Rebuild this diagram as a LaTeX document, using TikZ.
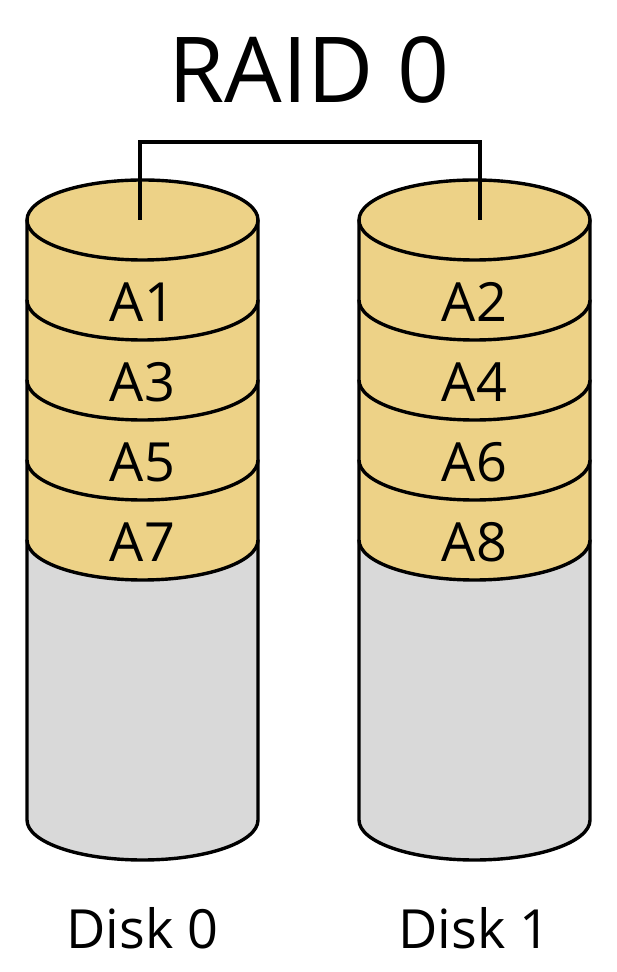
\documentclass[tikz,border=0pt]{standalone}
\usepackage{fontspec}
\setmainfont{Open Sans}
\definecolor{diskyellow}{HTML}{EDD287}
\definecolor{diskgray}{HTML}{D9D9D9}
\tikzset{
  outline/.style={draw=black, line width=3.4pt, line join=round},
  textlbl/.style={inner sep=0pt, font=\fontsize{54}{60}\selectfont},
  title/.style={inner sep=0pt, font=\fontsize{91}{100}\selectfont},
  bracket/.style={draw=black, line width=3.4pt}
}
% \mydisk{cx}{prefix}{l1}{l2}{l3}{l4}{name}
\newcommand{\mydisk}[7]{%
  \def\cx{#1}%
  % gray body
  \path[outline, fill=diskgray] (\cx-115.5, 972-540) -- (\cx-115.5, 972-820)
     arc[start angle=180, end angle=360, x radius=115.5, y radius=40]
     -- (\cx+115.5, 972-540) -- cycle;
  % yellow layers, bottom to top
  \foreach \ys/\lab in {460/#6, 380/#5, 300/#4, 220/#3} {
    \path[outline, fill=diskyellow] (\cx-115.5, 972-\ys) -- (\cx-115.5, 972-\ys-80)
       arc[start angle=180, end angle=360, x radius=115.5, y radius=40]
       -- (\cx+115.5, 972-\ys) -- cycle;
    \node[textlbl] (#2-\lab) at (\cx, 972-\ys-82) {\lab};
  }
  % top ellipse
  \path[outline, fill=diskyellow] (\cx, 972-220) ellipse[x radius=115.5, y radius=40];
  \node[textlbl] (#2-name) at (\cx, 972-928) {#7};
}
\begin{document}
\begin{tikzpicture}[x=1pt, y=1pt]
  \useasboundingbox (0,0) rectangle (616,972);
  \mydisk{142.5}{d0}{A1}{A3}{A5}{A7}{Disk 0}
  \mydisk{474.5}{d1}{A2}{A4}{A6}{A8}{Disk 1}
  \node[title] (raid) at (309, 972-70) {RAID 0};
  \coordinate (t0) at (140, 972-220);
  \coordinate (t1) at (480, 972-220);
  \coordinate (b0) at (140, 972-142);
  \coordinate (b1) at (480, 972-142);
  \draw[bracket] (t0) -- (b0) -- (b1) -- (t1);
\end{tikzpicture}
\end{document}
